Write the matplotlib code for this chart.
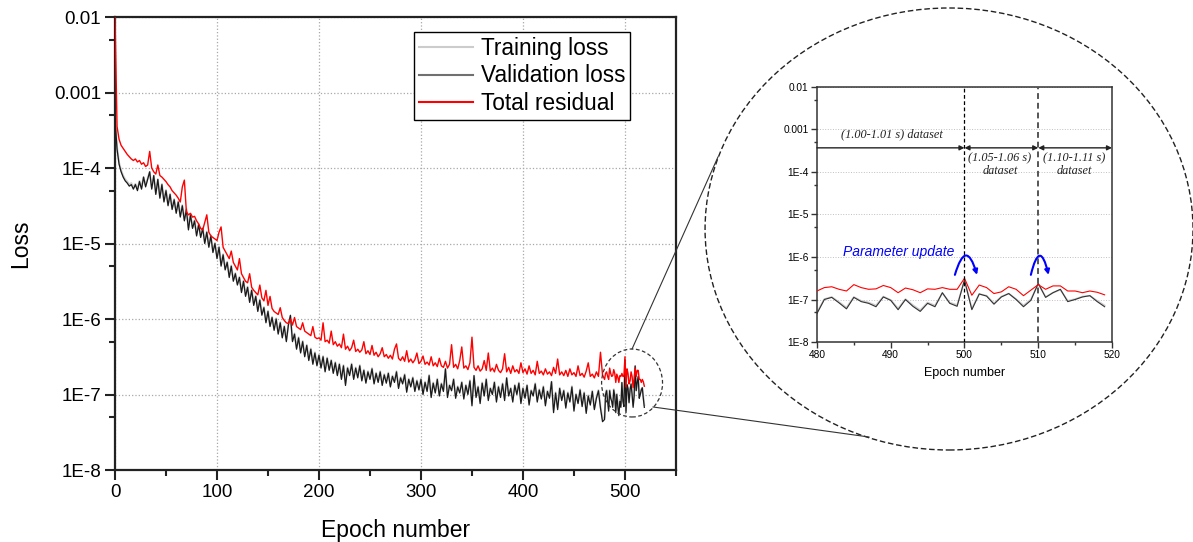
import numpy as np
import matplotlib
matplotlib.use('Agg')
import matplotlib.pyplot as plt
from matplotlib.patches import Ellipse, FancyArrowPatch
from matplotlib.lines import Line2D
from matplotlib.ticker import LogLocator, MultipleLocator, NullFormatter

plt.rcParams['font.family'] = ['Liberation Sans', 'DejaVu Sans']

# ---------------- data (log10 of loss values) -------------
epochs_early = list(range(0, 480, 2))
epochs_late = list(range(480, 520))

validation_log_early = [
    -3.35, -3.75, -3.95, -4.05, -4.12, -4.17, -4.20, -4.24, -4.22, -4.28,
    -4.22, -4.30, -4.18, -4.28, -4.12, -4.25, -4.15, -4.05, -4.28, -4.10,
    -4.35, -4.15, -4.40, -4.22, -4.45, -4.30, -4.50, -4.35, -4.55, -4.42,
    -4.60, -4.45, -4.65, -4.50, -4.70, -4.55, -4.82, -4.62, -4.80, -4.70,
    -4.90, -4.75, -4.92, -4.80, -5.00, -4.85, -5.05, -4.90, -5.12, -5.00,
    -5.20, -5.05, -5.30, -5.15, -5.35, -5.25, -5.45, -5.30, -5.50, -5.40,
    -5.55, -5.45, -5.65, -5.50, -5.70, -5.58, -5.78, -5.62, -5.82, -5.70,
    -5.90, -5.75, -5.95, -5.85, -6.05, -5.90, -6.10, -5.98, -6.15, -6.00,
    -6.20, -6.05, -6.25, -6.10, -6.30, -6.08, -5.95, -6.30, -6.20, -6.40,
    -6.25, -6.45, -6.30, -6.50, -6.35, -6.55, -6.40, -6.60, -6.45, -6.62,
    -6.48, -6.65, -6.50, -6.70, -6.52, -6.68, -6.55, -6.72, -6.58, -6.75,
    -6.60, -6.80, -6.62, -6.88, -6.65, -6.75, -6.60, -6.80, -6.65, -6.78,
    -6.62, -6.82, -6.68, -6.85, -6.70, -6.80, -6.66, -6.86, -6.72, -6.84,
    -6.70, -6.88, -6.74, -6.85, -6.72, -6.90, -6.76, -6.84, -6.70, -6.92,
    -6.78, -6.86, -6.74, -6.97, -6.80, -6.90, -6.78, -6.96, -6.82, -6.94,
    -6.80, -7.00, -6.84, -6.96, -6.75, -7.04, -6.85, -6.98, -6.80, -7.02,
    -6.86, -6.96, -6.66, -7.04, -6.88, -6.95, -6.80, -7.05, -6.90, -6.98,
    -6.84, -7.06, -6.88, -7.00, -6.82, -7.15, -6.75, -7.04, -6.90, -7.12,
    -6.85, -7.02, -6.80, -7.08, -6.92, -7.00, -6.84, -7.10, -6.90, -7.04,
    -6.86, -7.08, -6.78, -7.02, -6.92, -7.10, -6.88, -7.00, -6.85, -7.12,
    -6.92, -7.05, -6.88, -7.14, -6.95, -7.02, -6.86, -7.10, -6.94, -7.06,
    -6.90, -7.15, -6.96, -7.05, -6.83, -7.24, -6.98, -7.20, -6.92, -7.08,
    -6.95, -7.18, -6.98, -7.10, -6.90, -7.22, -7.00, -7.12, -6.94, -7.16,
    -6.98, -7.25, -7.02, -7.14, -6.96, -7.20, -7.05, -6.95, -7.18, -7.36]

training_log_early = [
    -3.33, -3.72, -3.93, -4.03, -4.10, -4.15, -4.18, -4.22, -4.20, -4.26,
    -4.21, -4.28, -4.17, -4.26, -4.12, -4.23, -4.14, -4.05, -4.26, -4.10,
    -4.33, -4.15, -4.38, -4.21, -4.43, -4.29, -4.48, -4.34, -4.53, -4.41,
    -4.58, -4.44, -4.63, -4.49, -4.68, -4.54, -4.79, -4.61, -4.78, -4.69,
    -4.88, -4.74, -4.90, -4.79, -4.98, -4.84, -5.03, -4.89, -5.10, -4.99,
    -5.18, -5.04, -5.28, -5.14, -5.33, -5.24, -5.43, -5.29, -5.48, -5.39,
    -5.53, -5.44, -5.63, -5.49, -5.68, -5.57, -5.76, -5.61, -5.80, -5.69,
    -5.88, -5.74, -5.93, -5.84, -6.03, -5.89, -6.08, -5.97, -6.13, -5.99,
    -6.18, -6.04, -6.23, -6.09, -6.28, -6.07, -5.96, -6.28, -6.19, -6.38,
    -6.24, -6.43, -6.29, -6.48, -6.34, -6.53, -6.39, -6.58, -6.44, -6.60,
    -6.47, -6.63, -6.49, -6.68, -6.51, -6.66, -6.54, -6.70, -6.57, -6.73,
    -6.59, -6.78, -6.61, -6.85, -6.64, -6.73, -6.59, -6.78, -6.64, -6.76,
    -6.61, -6.80, -6.67, -6.83, -6.69, -6.78, -6.65, -6.84, -6.71, -6.82,
    -6.69, -6.86, -6.73, -6.83, -6.71, -6.88, -6.75, -6.82, -6.69, -6.90,
    -6.77, -6.84, -6.73, -6.94, -6.79, -6.88, -6.77, -6.94, -6.81, -6.92,
    -6.79, -6.98, -6.83, -6.94, -6.74, -7.01, -6.84, -6.96, -6.79, -7.00,
    -6.85, -6.94, -6.66, -7.01, -6.87, -6.93, -6.79, -7.02, -6.89, -6.96,
    -6.83, -7.03, -6.87, -6.98, -6.81, -7.12, -6.75, -7.01, -6.89, -7.09,
    -6.84, -7.00, -6.79, -7.05, -6.91, -6.98, -6.83, -7.07, -6.89, -7.02,
    -6.85, -7.05, -6.78, -7.00, -6.91, -7.07, -6.87, -6.98, -6.84, -7.09,
    -6.91, -7.03, -6.87, -7.11, -6.94, -7.00, -6.85, -7.07, -6.93, -7.04,
    -6.89, -7.12, -6.95, -7.03, -6.83, -7.20, -6.97, -7.17, -6.91, -7.06,
    -6.94, -7.15, -6.97, -7.08, -6.89, -7.19, -6.99, -7.10, -6.93, -7.13,
    -6.97, -7.22, -7.01, -7.12, -6.95, -7.18, -7.04, -6.94, -7.16, -7.32]

residual_log_early = [
    -2.00, -3.45, -3.62, -3.70, -3.74, -3.78, -3.82, -3.85, -3.88, -3.90,
    -3.88, -3.92, -3.90, -3.95, -3.93, -3.98, -3.96, -3.78, -4.00, -4.05,
    -4.08, -3.96, -4.10, -4.12, -4.15, -4.18, -4.22, -4.25, -4.30, -4.33,
    -4.36, -4.40, -4.45, -4.25, -4.16, -4.58, -4.62, -4.60, -4.65, -4.64,
    -4.70, -4.74, -4.80, -4.82, -4.72, -4.62, -4.85, -4.90, -4.92, -4.94,
    -4.96, -4.85, -4.78, -5.05, -5.10, -5.15, -5.20, -5.10, -5.25, -5.30,
    -5.35, -5.20, -5.40, -5.45, -5.50, -5.52, -5.40, -5.58, -5.62, -5.65,
    -5.68, -5.55, -5.72, -5.76, -5.62, -5.82, -5.70, -5.86, -5.90, -5.92,
    -5.94, -5.85, -5.98, -6.02, -6.05, -6.06, -6.00, -6.08, -5.98, -6.10,
    -6.12, -6.14, -6.05, -6.16, -6.18, -6.20, -6.22, -6.10, -6.24, -6.26,
    -6.25, -6.28, -6.05, -6.30, -6.28, -6.32, -6.16, -6.34, -6.30, -6.36,
    -6.33, -6.38, -6.20, -6.40, -6.36, -6.42, -6.38, -6.28, -6.43, -6.40,
    -6.44, -6.41, -6.30, -6.46, -6.42, -6.47, -6.35, -6.48, -6.44, -6.50,
    -6.46, -6.38, -6.50, -6.47, -6.52, -6.48, -6.53, -6.40, -6.33, -6.52,
    -6.55, -6.50, -6.56, -6.42, -6.57, -6.53, -6.58, -6.54, -6.45, -6.59,
    -6.56, -6.49, -6.60, -6.57, -6.61, -6.50, -6.62, -6.58, -6.63, -6.52,
    -6.62, -6.64, -6.56, -6.65, -6.60, -6.34, -6.64, -6.60, -6.66, -6.55,
    -6.37, -6.65, -6.62, -6.67, -6.58, -6.24, -6.64, -6.68, -6.62, -6.69,
    -6.66, -6.55, -6.68, -6.45, -6.69, -6.65, -6.70, -6.60, -6.68, -6.71,
    -6.66, -6.46, -6.70, -6.64, -6.72, -6.62, -6.70, -6.67, -6.72, -6.58,
    -6.71, -6.66, -6.73, -6.62, -6.72, -6.68, -6.74, -6.56, -6.72, -6.69,
    -6.74, -6.66, -6.73, -6.70, -6.75, -6.64, -6.72, -6.53, -6.74, -6.70,
    -6.75, -6.68, -6.76, -6.66, -6.74, -6.71, -6.76, -6.62, -6.75, -6.72,
    -6.77, -6.69, -6.58, -6.76, -6.73, -6.78, -6.70, -6.76, -6.44, -6.74]

# epochs 480-519, one value per epoch (as seen in the zoomed inset)
validation_log_late = [
    -7.33, -7.00, -6.95, -7.08, -7.22, -6.95, -7.05, -7.09, -7.17, -6.94,
    -7.02, -7.24, -7.00, -7.16, -7.28, -7.09, -7.17, -6.84, -7.09, -7.16,
    -6.54, -7.24, -6.87, -6.92, -7.11, -6.94, -6.86, -7.00, -7.17, -7.02,
    -6.62, -6.95, -6.84, -6.76, -7.05, -7.00, -6.94, -6.91, -7.05, -7.17]
training_log_late = [
    -7.30, -6.99, -6.94, -7.06, -7.19, -6.94, -7.03, -7.07, -7.14, -6.93,
    -7.01, -7.21, -6.99, -7.13, -7.25, -7.07, -7.14, -6.85, -7.07, -7.13,
    -6.56, -7.21, -6.87, -6.91, -7.09, -6.93, -6.86, -6.99, -7.14, -7.00,
    -6.63, -6.94, -6.84, -6.77, -7.03, -6.99, -6.93, -6.91, -7.03, -7.14]
residual_log_late = [
    -6.80, -6.72, -6.70, -6.76, -6.80, -6.65, -6.72, -6.76, -6.75, -6.67,
    -6.72, -6.84, -6.73, -6.77, -6.84, -6.75, -6.76, -6.72, -6.76, -6.76,
    -6.50, -6.90, -6.66, -6.72, -6.86, -6.82, -6.70, -6.76, -6.91, -6.78,
    -6.65, -6.76, -6.68, -6.68, -6.80, -6.80, -6.84, -6.80, -6.83, -6.89]

y_tick_values = [1e-8, 1e-7, 1e-6, 1e-5, 1e-4, 1e-3, 1e-2]
y_tick_labels = ['1E-8', '1E-7', '1E-6', '1E-5', '1E-4', '0.001', '0.01']
x_ticks_main = [0, 100, 200, 300, 400, 500]
x_ticks_inset = [480, 490, 500, 510, 520]
series_names = ['Training loss', 'Validation loss', 'Total residual']

epochs = np.array(epochs_early + epochs_late)
training = 10 ** np.array(training_log_early + training_log_late)
validation = 10 ** np.array(validation_log_early + validation_log_late)
residual = 10 ** np.array(residual_log_early + residual_log_late)

c_train, c_val, c_res = '#cccccc', '#1a1a1a', '#ff0000'

fig = plt.figure(figsize=(11.93, 5.42), dpi=100)

# ---------------- main axes ----------------
ax = fig.add_axes([0.0964, 0.1328, 0.4702, 0.8358])
ax.set_yscale('log')
ax.plot(epochs, training, color=c_train, lw=1.4, label=series_names[0], zorder=2)
ax.plot(epochs, validation, color=c_val, lw=0.9, label=series_names[1], zorder=3)
ax.plot(epochs, residual, color=c_res, lw=1.0, label=series_names[2], zorder=4)
ax.set_xlim(0, 550)
ax.set_ylim(1e-8, 1e-2)
ax.set_xticks(x_ticks_main)
ax.xaxis.set_minor_locator(MultipleLocator(50))
ax.set_yticks(y_tick_values)
ax.set_yticklabels(y_tick_labels)
ax.yaxis.set_minor_locator(LogLocator(base=10, subs=[5]))
ax.yaxis.set_minor_formatter(NullFormatter())
ax.tick_params(which='both', direction='out', top=False, right=False,
               labelsize=13.5, width=1.5, color='#222')
ax.tick_params(which='major', length=7, pad=3)
ax.tick_params(which='minor', length=4)
ax.grid(True, which='major', ls=':', color='#a8a8a8', lw=0.9)
for s in ax.spines.values():
    s.set_linewidth(1.6)
    s.set_color('#222')
ax.set_xlabel('Epoch number', fontsize=16.5, labelpad=13)
ax.set_ylabel('Loss', fontsize=16.5, labelpad=16)

leg = ax.legend(loc='upper left', bbox_to_anchor=(0.533, 0.966), borderaxespad=0,
                fontsize=16.3, frameon=True, fancybox=False, edgecolor='k',
                framealpha=1, borderpad=0.2, labelspacing=0.2,
                handlelength=2.4, handletextpad=0.35)
leg.get_frame().set_linewidth(1.0)
leg.legend_handles[0].set_linewidth(1.5)
leg.legend_handles[1].set_color('#707070')
leg.legend_handles[1].set_linewidth(1.5)
leg.legend_handles[2].set_linewidth(1.5)

# ---------------- zoom decorations ----------------
fig.add_artist(Ellipse((0.5298, 0.2934), 0.0511, 0.1255, transform=fig.transFigure,
                       fill=False, ls=(0, (3, 2)), lw=0.9, ec='#333'))
fig.add_artist(Ellipse((0.7955, 0.5775), 0.409, 0.8155, transform=fig.transFigure,
                       fill=False, ls=(0, (4, 2)), lw=1.0, ec='#222'))
fig.add_artist(Line2D([0.5298, 0.6018], [0.3561, 0.7103], transform=fig.transFigure,
                      color='#333', lw=0.8))
fig.add_artist(Line2D([0.5474, 0.7284], [0.2491, 0.1937], transform=fig.transFigure,
                      color='#333', lw=0.8))

# ---------------- inset axes ----------------
ai = fig.add_axes([0.6848, 0.369, 0.2473, 0.4705])
ai.set_yscale('log')
ep_late = np.array(epochs_late)
ai.plot(ep_late, 10 ** np.array(training_log_late), color=c_train, lw=1.2, zorder=2)
ai.plot(ep_late, 10 ** np.array(validation_log_late), color='#333', lw=0.8, zorder=3)
ai.plot(ep_late, 10 ** np.array(residual_log_late), color=c_res, lw=0.8, zorder=4)
ai.set_xlim(480, 520)
ai.set_ylim(1e-8, 1e-2)
ai.set_xticks(x_ticks_inset)
ai.xaxis.set_minor_locator(MultipleLocator(5))
ai.set_yticks(y_tick_values)
ai.set_yticklabels(y_tick_labels)
ai.yaxis.set_minor_locator(LogLocator(base=10, subs=[5]))
ai.yaxis.set_minor_formatter(NullFormatter())
ai.tick_params(which='both', direction='out', top=False, right=False,
               labelsize=7.3, width=1.0, color='#333', pad=2)
ai.tick_params(which='major', length=4)
ai.tick_params(which='minor', length=2.5)
ai.grid(True, which='major', axis='y', ls=':', color='#c0c0c0', lw=0.7)
for s in ai.spines.values():
    s.set_linewidth(1.1)
    s.set_color('#333')
ai.set_xlabel('Epoch number', fontsize=9, labelpad=5)

ai.axvline(500, ls=(0, (3, 2)), color='k', lw=0.9, zorder=5)
ai.axvline(510, ls=(0, (3, 2)), color='#555', lw=1.4, zorder=5)

y_arrow = 3.7e-4
ap = dict(color='#222', lw=1.0, mutation_scale=7, shrinkA=0, shrinkB=0)
ai.annotate('', xy=(500, y_arrow), xytext=(480, y_arrow), arrowprops=dict(arrowstyle='-|>', **ap))
ai.annotate('', xy=(510, y_arrow), xytext=(500, y_arrow), arrowprops=dict(arrowstyle='<|-|>', **ap))
ai.annotate('', xy=(520, y_arrow), xytext=(510, y_arrow), arrowprops=dict(arrowstyle='<|-|>', **ap))

serif = ['Liberation Serif', 'DejaVu Serif']
ai.text(490.2, 5.6e-4, '(1.00-1.01 s) dataset', family=serif, style='italic',
        fontsize=8.8, ha='center', va='bottom', color='#222')
ai.text(504.8, 1.5e-4, '(1.05-1.06 s)\ndataset', family=serif, style='italic',
        fontsize=8.8, ha='center', va='center', color='#222', linespacing=1.1)
ai.text(514.9, 1.5e-4, '(1.10-1.11 s)\ndataset', family=serif, style='italic',
        fontsize=8.8, ha='center', va='center', color='#222', linespacing=1.1)
ai.text(491.1, 1.3e-6, 'Parameter update', color='blue', style='italic',
        fontsize=10, ha='center', va='center')

for x0, x1, rad in [(498.7, 501.7, -1.7), (509.0, 511.4, -2.1)]:
    arr = FancyArrowPatch((x0, 3.8e-7), (x1, 3.8e-7), connectionstyle=f'arc3,rad={rad}',
                          arrowstyle='-|>', mutation_scale=7, color='blue', lw=1.5,
                          shrinkA=0, shrinkB=0, zorder=6)
    ai.add_patch(arr)

fig.savefig('out.png', dpi=100)
